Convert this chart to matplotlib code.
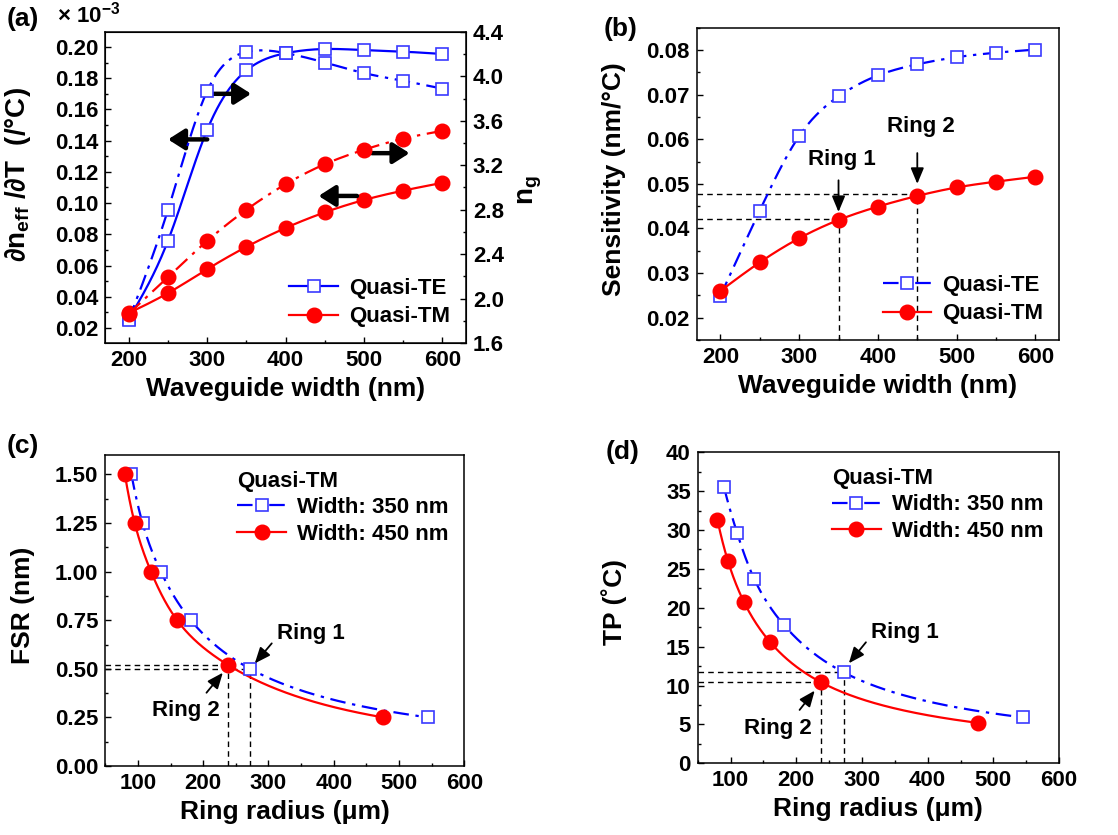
import numpy as np
import matplotlib
matplotlib.use("Agg")
import matplotlib.pyplot as plt
from matplotlib.ticker import MultipleLocator, FormatStrFormatter
from matplotlib.lines import Line2D

plt.rcParams['font.family'] = ['Liberation Sans', 'DejaVu Sans']
plt.rcParams['font.weight'] = 'bold'
plt.rcParams['mathtext.fontset'] = 'custom'
plt.rcParams['mathtext.rm'] = 'Liberation Sans:bold'
plt.rcParams['mathtext.it'] = 'Liberation Sans:bold'
plt.rcParams['mathtext.bf'] = 'Liberation Sans:bold'
plt.rcParams['mathtext.default'] = 'rm'

# ---------------- data ----------------
# (a) thermo-optic coefficient and group index vs waveguide width
width = [200, 250, 300, 350, 400, 450, 500, 550, 600]
dndt_te = [0.026, 0.076, 0.147, 0.185, 0.196, 0.1987, 0.198, 0.197, 0.1955]
dndt_tm = [0.0296, 0.0424, 0.0577, 0.072, 0.0841, 0.0941, 0.102, 0.108, 0.113]
ng_te = [1.81, 2.80, 3.87, 4.22, 4.21, 4.125, 4.03, 3.96, 3.89]
ng_tm = [1.865, 2.194, 2.52, 2.80, 3.03, 3.21, 3.34, 3.44, 3.51]

# (b) temperature sensitivity vs waveguide width
sens_te = [0.0249, 0.0440, 0.0607, 0.0696, 0.0743, 0.0768, 0.0784, 0.0794, 0.0801]
sens_tm = [0.0260, 0.0324, 0.0378, 0.0419, 0.0449, 0.0473, 0.0492, 0.0505, 0.0516]
ring1_width, ring1_sens = 350, 0.0421
ring2_width, ring2_sens = 450, 0.0478

# (c) free spectral range vs ring radius (Quasi-TM)
radius_350 = [90, 107, 135, 181, 272, 545]
fsr_350 = [1.50, 1.25, 1.00, 0.75, 0.50, 0.25]
radius_450 = [80, 95, 120, 160, 238, 476]
fsr_450 = [1.50, 1.25, 1.00, 0.75, 0.52, 0.25]

# (d) temperature detection range vs ring radius (Quasi-TM)
radius_350_tp = [90, 110, 136, 181, 272, 545]
tp_350 = [35.5, 29.6, 23.7, 17.8, 11.7, 5.9]
radius_450_tp = [80, 96, 120, 160, 238, 476]
tp_450 = [31.3, 26.0, 20.8, 15.6, 10.4, 5.2]

BLUE = '#0000ff'
SQ_EDGE = '#3a3aff'
RED = '#ff0000'
DASHDOT = (0, (7, 3, 1.5, 3))
TICK_FS = 16
LABEL_FS = 19
LEG_FS = 16
NOTE_FS = 16


def natural_spline(x, y, n=300):
    """Natural cubic spline through (x, y) for a smooth connecting line."""
    x = np.asarray(x, float)
    y = np.asarray(y, float)
    m = len(x)
    h = np.diff(x)
    A = np.zeros((m, m))
    b = np.zeros(m)
    A[0, 0] = A[-1, -1] = 1.0
    for i in range(1, m - 1):
        A[i, i - 1] = h[i - 1]
        A[i, i] = 2 * (h[i - 1] + h[i])
        A[i, i + 1] = h[i]
        b[i] = 6 * ((y[i + 1] - y[i]) / h[i] - (y[i] - y[i - 1]) / h[i - 1])
    M = np.linalg.solve(A, b)
    xs = np.linspace(x[0], x[-1], n)
    idx = np.clip(np.searchsorted(x, xs) - 1, 0, m - 2)
    x0, x1 = x[idx], x[idx + 1]
    hh = x1 - x0
    t0 = x1 - xs
    t1 = xs - x0
    ys = (M[idx] * t0 ** 3 / (6 * hh) + M[idx + 1] * t1 ** 3 / (6 * hh)
          + (y[idx] / hh - M[idx] * hh / 6) * t0
          + (y[idx + 1] / hh - M[idx + 1] * hh / 6) * t1)
    return xs, ys


def loglog_spline(x, y, n=300):
    xs, ys = natural_spline(np.log(x), np.log(y), n)
    return np.exp(xs), np.exp(ys)


def style_axes(ax, xmaj, xmin, ymaj, ymin):
    ax.xaxis.set_major_locator(MultipleLocator(xmaj))
    ax.xaxis.set_minor_locator(MultipleLocator(xmin))
    ax.yaxis.set_major_locator(MultipleLocator(ymaj))
    ax.yaxis.set_minor_locator(MultipleLocator(ymin))
    ax.tick_params(which='both', direction='in', top=False, right=False,
                   labelsize=TICK_FS, width=1.0)
    ax.tick_params(which='major', length=4.5, pad=5)
    ax.tick_params(which='minor', length=2.5)
    for s in ax.spines.values():
        s.set_linewidth(1.1)


def sq_marker(ax, x, y, **kw):
    ax.plot(x, y, ls='none', marker='s', ms=9, mfc='white', mec=SQ_EDGE,
            mew=1.2, **kw)


def circ_marker(ax, x, y, **kw):
    ax.plot(x, y, ls='none', marker='o', ms=10.5, mfc=RED, mec=RED, **kw)


fig = plt.figure(figsize=(11.18, 8.35), dpi=100)

# ---------------- (a) ----------------
axa = fig.add_axes([0.0942, 0.5892, 0.3226, 0.3725])
axa2 = axa.twinx()
xs, ys = natural_spline(width, dndt_te)
axa.plot(xs, ys, color=BLUE, lw=1.6)
xs, ys = natural_spline(width, dndt_tm)
axa.plot(xs, ys, color=RED, lw=1.6)
sq_marker(axa, width, dndt_te)
circ_marker(axa, width, dndt_tm)
xs, ys = natural_spline(width, ng_te)
axa2.plot(xs, ys, color=BLUE, lw=1.6, ls=DASHDOT)
xs, ys = natural_spline(width, ng_tm)
axa2.plot(xs, ys, color=RED, lw=1.6, ls=DASHDOT)
sq_marker(axa2, width, ng_te)
circ_marker(axa2, width, ng_tm)
axa.set_xlim(170, 630)
axa.set_ylim(0.0104, 0.2096)
axa2.set_ylim(1.6, 4.4)
style_axes(axa, 100, 50, 0.02, 0.01)
axa2.yaxis.set_major_locator(MultipleLocator(0.4))
axa2.yaxis.set_minor_locator(MultipleLocator(0.2))
axa2.tick_params(which='both', direction='in', labelsize=TICK_FS, width=1.0)
axa2.tick_params(which='major', length=4.5, pad=5)
axa2.tick_params(which='minor', length=2.5)
axa.yaxis.set_major_formatter(FormatStrFormatter('%.2f'))
axa2.yaxis.set_major_formatter(FormatStrFormatter('%.1f'))
axa.set_xlabel('Waveguide width (nm)', fontsize=LABEL_FS, fontweight='bold', labelpad=4)
axa.set_ylabel('∂n$_{\\mathrm{eff}}$ /∂T  (/°C)', fontsize=LABEL_FS + 1, fontweight='bold')
axa.yaxis.set_label_coords(-0.2, 0.54)
axa2.set_ylabel('n$_{\\mathrm{g}}$', fontsize=LABEL_FS + 1, fontweight='bold', rotation=90)
axa2.yaxis.set_label_coords(1.14, 0.49)
axa.text(-0.135, 1.055, '× 10$^{-3}$', transform=axa.transAxes, fontsize=16,
         fontweight='bold', ha='left', va='center')

arrow_kw = dict(arrowstyle='-|>,head_length=0.55,head_width=0.35', lw=3.2,
                color='black', mutation_scale=18, shrinkA=0, shrinkB=0)
axa.annotate('', xy=(250, 0.1408), xytext=(300, 0.1408), arrowprops=arrow_kw)
axa.annotate('', xy=(356, 0.170), xytext=(308, 0.170), arrowprops=arrow_kw)
axa.annotate('', xy=(558, 0.132), xytext=(510, 0.132), arrowprops=arrow_kw)
axa.annotate('', xy=(442, 0.1046), xytext=(491, 0.1046), arrowprops=arrow_kw)

h_te = Line2D([], [], color=BLUE, lw=1.6, marker='s', ms=9, mfc='white',
              mec=SQ_EDGE, mew=1.2)
h_tm = Line2D([], [], color=RED, lw=1.6, marker='o', ms=10.5, mfc=RED, mec=RED)
axa.legend([h_te, h_tm], ['Quasi-TE', 'Quasi-TM'], loc='lower right',
           frameon=False, handlelength=2.2, handletextpad=0.5,
           labelspacing=0.35, borderaxespad=0.3,
           prop={'weight': 'bold', 'size': LEG_FS})

# ---------------- (b) ----------------
axb = fig.add_axes([0.6232, 0.5928, 0.3241, 0.374])
xs, ys = natural_spline(width, sens_te)
axb.plot(xs, ys, color=BLUE, lw=1.6, ls=DASHDOT)
xs, ys = natural_spline(width, sens_tm)
axb.plot(xs, ys, color=RED, lw=1.6)
sq_marker(axb, width, sens_te)
circ_marker(axb, width, sens_tm)
axb.set_xlim(170, 630)
axb.set_ylim(0.015, 0.085)
style_axes(axb, 100, 50, 0.01, 0.005)
axb.yaxis.set_major_formatter(FormatStrFormatter('%.2f'))
dash_kw = dict(color='black', lw=1.0, ls=(0, (4, 3)), zorder=1)
axb.plot([170, ring2_width], [ring2_sens, ring2_sens], **dash_kw)
axb.plot([ring2_width, ring2_width], [0.015, ring2_sens], **dash_kw)
axb.plot([170, ring1_width], [ring1_sens, ring1_sens], **dash_kw)
axb.plot([ring1_width, ring1_width], [0.015, ring1_sens], **dash_kw)
thin_arrow = dict(arrowstyle='-|>,head_length=0.6,head_width=0.25', lw=1.3,
                  color='black', mutation_scale=16, shrinkA=0, shrinkB=0)
axb.annotate('', xy=(350, 0.0437), xytext=(350, 0.0508), arrowprops=thin_arrow)
axb.annotate('', xy=(450, 0.0500), xytext=(450, 0.0569), arrowprops=thin_arrow)
axb.text(354, 0.0554, 'Ring 1', fontsize=NOTE_FS, fontweight='bold', ha='center', va='center')
axb.text(455, 0.0629, 'Ring 2', fontsize=NOTE_FS, fontweight='bold', ha='center', va='center')
axb.set_xlabel('Waveguide width (nm)', fontsize=LABEL_FS, fontweight='bold', labelpad=4)
axb.set_ylabel('Sensitivity (nm/°C)', fontsize=LABEL_FS, fontweight='bold')
axb.yaxis.set_label_coords(-0.195, 0.516)
h_te_b = Line2D([], [], color=BLUE, lw=1.6, ls=DASHDOT, marker='s', ms=9,
                mfc='white', mec=SQ_EDGE, mew=1.2)
axb.legend([h_te_b, h_tm], ['Quasi-TE', 'Quasi-TM'], loc='lower right',
           frameon=False, handlelength=2.2, handletextpad=0.5,
           labelspacing=0.35, borderaxespad=0.3,
           prop={'weight': 'bold', 'size': LEG_FS})

# ---------------- (c) ----------------
axc = fig.add_axes([0.0942, 0.0826, 0.3211, 0.3725])
xs, ys = loglog_spline(radius_350, fsr_350)
axc.plot(xs, ys, color=BLUE, lw=1.6, ls=DASHDOT)
xs, ys = loglog_spline(radius_450, fsr_450)
axc.plot(xs, ys, color=RED, lw=1.6)
sq_marker(axc, radius_350, fsr_350)
circ_marker(axc, radius_450, fsr_450)
axc.set_xlim(50, 600)
axc.set_ylim(0, 1.6)
style_axes(axc, 100, 50, 0.25, 0.125)
axc.yaxis.set_major_formatter(FormatStrFormatter('%.2f'))
axc.plot([50, radius_450[4]], [fsr_450[4], fsr_450[4]], **dash_kw)
axc.plot([radius_450[4], radius_450[4]], [0, fsr_450[4]], **dash_kw)
axc.plot([50, radius_350[4]], [fsr_350[4], fsr_350[4]], **dash_kw)
axc.plot([radius_350[4], radius_350[4]], [0, fsr_350[4]], **dash_kw)
axc.annotate('', xy=(279, 0.528), xytext=(305, 0.631), arrowprops=thin_arrow)
axc.annotate('', xy=(230, 0.48), xytext=(205, 0.377), arrowprops=thin_arrow)
axc.text(313, 0.683, 'Ring 1', fontsize=NOTE_FS, fontweight='bold', ha='left', va='center')
axc.text(226, 0.284, 'Ring 2', fontsize=NOTE_FS, fontweight='bold', ha='right', va='center')
axc.set_xlabel('Ring radius (μm)', fontsize=LABEL_FS, fontweight='bold', labelpad=4)
axc.set_ylabel('FSR (nm)', fontsize=LABEL_FS, fontweight='bold')
axc.yaxis.set_label_coords(-0.195, 0.518)
h350 = Line2D([], [], color=BLUE, lw=1.6, ls=DASHDOT, marker='s', ms=9,
              mfc='white', mec=SQ_EDGE, mew=1.2)
h450 = Line2D([], [], color=RED, lw=1.6, marker='o', ms=10.5, mfc=RED, mec=RED)
legc = axc.legend([h350, h450], ['Width: 350 nm', 'Width: 450 nm'],
                  loc='upper right', frameon=False, handlelength=2.2,
                  handletextpad=0.5, labelspacing=0.25, borderaxespad=0.3,
                  title='Quasi-TM', prop={'weight': 'bold', 'size': LEG_FS},
                  title_fontproperties={'weight': 'bold', 'size': LEG_FS})
legc._legend_box.align = 'left'

# ---------------- (d) ----------------
axd = fig.add_axes([0.6241, 0.0859, 0.3232, 0.3725])
xs, ys = loglog_spline(radius_350_tp, tp_350)
axd.plot(xs, ys, color=BLUE, lw=1.6, ls=DASHDOT)
xs, ys = loglog_spline(radius_450_tp, tp_450)
axd.plot(xs, ys, color=RED, lw=1.6)
sq_marker(axd, radius_350_tp, tp_350)
circ_marker(axd, radius_450_tp, tp_450)
axd.set_xlim(50, 600)
axd.set_ylim(0, 40)
style_axes(axd, 100, 50, 5, 2.5)
axd.plot([50, radius_350_tp[4]], [tp_350[4], tp_350[4]], **dash_kw)
axd.plot([radius_350_tp[4], radius_350_tp[4]], [0, tp_350[4]], **dash_kw)
axd.plot([50, radius_450_tp[4]], [tp_450[4], tp_450[4]], **dash_kw)
axd.plot([radius_450_tp[4], radius_450_tp[4]], [0, tp_450[4]], **dash_kw)
axd.annotate('', xy=(280, 12.86), xytext=(306, 15.56), arrowprops=thin_arrow)
axd.annotate('', xy=(228, 9.34), xytext=(205, 6.86), arrowprops=thin_arrow)
axd.text(314, 16.85, 'Ring 1', fontsize=NOTE_FS, fontweight='bold', ha='left', va='center')
axd.text(224, 4.5, 'Ring 2', fontsize=NOTE_FS, fontweight='bold', ha='right', va='center')
axd.set_xlabel('Ring radius (μm)', fontsize=LABEL_FS, fontweight='bold', labelpad=4)
axd.set_ylabel('TP (˚C)', fontsize=LABEL_FS, fontweight='bold')
axd.yaxis.set_label_coords(-0.195, 0.518)
legd = axd.legend([h350, h450], ['Width: 350 nm', 'Width: 450 nm'],
                  loc='upper right', frameon=False, handlelength=2.2,
                  handletextpad=0.5, labelspacing=0.25, borderaxespad=0.3,
                  title='Quasi-TM', prop={'weight': 'bold', 'size': LEG_FS},
                  title_fontproperties={'weight': 'bold', 'size': LEG_FS})
legd._legend_box.align = 'left'

# panel labels
for lbl, x, y in [('(a)', 7, 7), ('(b)', 604, 17), ('(c)', 7, 434), ('(d)', 606, 440)]:
    fig.text(x / 1118, 1 - y / 835, lbl, fontsize=19, fontweight='bold',
             ha='left', va='top')

fig.savefig('out.png', dpi=100)
